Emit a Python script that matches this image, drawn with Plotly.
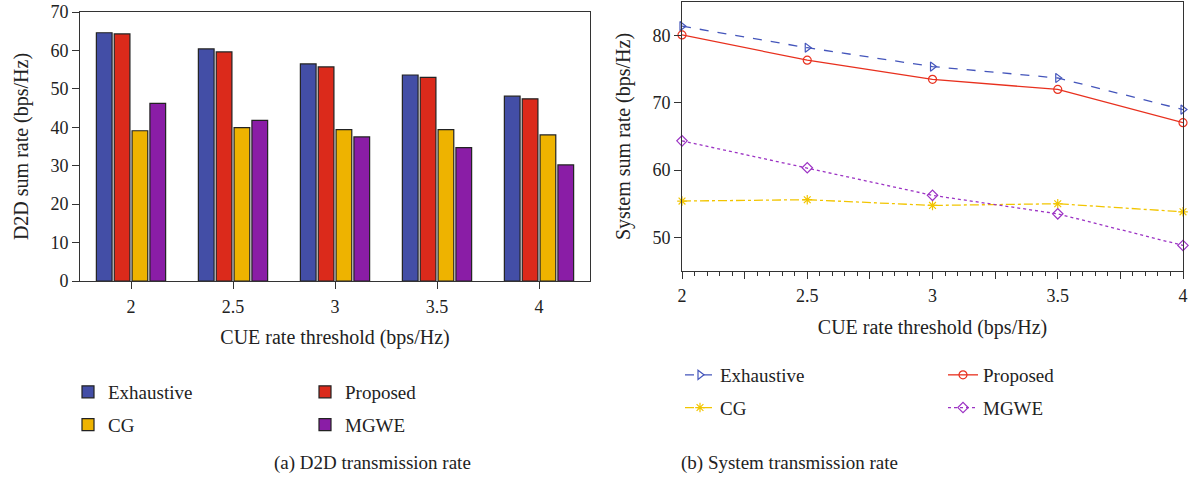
import plotly.graph_objects as go

W, H = 1196, 477

thresholds = ["2", "2.5", "3", "3.5", "4"]
thr_num = [2, 2.5, 3, 3.5, 4]

# (a) D2D sum rate (bps/Hz)
d2d_exhaustive = [64.6, 60.4, 56.5, 53.6, 48.1]
d2d_proposed = [64.3, 59.6, 55.7, 53.0, 47.4]
d2d_cg = [39.1, 39.9, 39.4, 39.4, 38.0]
d2d_mgwe = [46.2, 41.8, 37.5, 34.7, 30.2]

# (b) System sum rate (bps/Hz)
sys_exhaustive = [81.4, 78.2, 75.4, 73.7, 69.0]
sys_proposed = [80.1, 76.35, 73.5, 72.0, 67.05]
sys_cg = [55.4, 55.6, 54.75, 55.0, 53.8]
sys_mgwe = [64.35, 60.35, 56.25, 53.5, 48.8]

series_names = ["Exhaustive", "Proposed", "CG", "MGWE"]
bar_colors = ["#434EA6", "#DB2A1B", "#EEB300", "#8A1DA6"]
line_colors = ["#4455BB", "#E8301E", "#F2C500", "#9C33C4"]
line_dash = ["dash", "solid", "dashdot", "dot"]
markers = ["triangle-right-open", "circle-open", "asterisk-open", "diamond-open"]

FONT = "Liberation Serif, DejaVu Serif, serif"
AX = "#333333"

def px_x(p):
    return p / W

def px_y(p):
    return 1 - p / H

fig = go.Figure()

bar_vals = [d2d_exhaustive, d2d_proposed, d2d_cg, d2d_mgwe]
bar_legends = ["legend", "legend2", "legend", "legend2"]
for i, name in enumerate(series_names):
    fig.add_trace(go.Bar(
        x=thresholds, y=bar_vals[i], name=name,
        marker=dict(color=bar_colors[i], line=dict(color="#222222", width=1.2)),
        xaxis="x", yaxis="y", legend=bar_legends[i], legendgroup="a" + name,
    ))

line_vals = [sys_exhaustive, sys_proposed, sys_cg, sys_mgwe]
line_legends = ["legend3", "legend4", "legend3", "legend4"]
for i, name in enumerate(series_names):
    fig.add_trace(go.Scatter(
        x=thr_num, y=line_vals[i], name=name, mode="lines+markers",
        line=dict(color=line_colors[i], dash=line_dash[i], width=1.3),
        marker=dict(symbol=markers[i], size=8, color=line_colors[i],
                    line=dict(color=line_colors[i], width=1.2)),
        cliponaxis=False,
        xaxis="x2", yaxis="y2", legend=line_legends[i], legendgroup="b" + name,
    ))

tickfont = dict(family=FONT, size=18, color="#222222")
titlefont = dict(family=FONT, size=20, color="#222222")
legfont = dict(family=FONT, size=19, color="#222222")

common_axis = dict(showline=True, linecolor=AX, linewidth=1, mirror=True,
                   ticks="outside", ticklen=7, tickcolor=AX, tickwidth=1,
                   showgrid=False, zeroline=False, tickfont=tickfont,
                   automargin=False)

leg_common = dict(orientation="v", xanchor="left", yanchor="top",
                  bgcolor="rgba(0,0,0,0)", font=legfont, tracegroupgap=5,
                  itemclick=False, itemdoubleclick=False)

fig.update_layout(
    width=W, height=H, autosize=False,
    margin=dict(l=0, r=0, t=0, b=0, pad=0, autoexpand=False),
    paper_bgcolor="white", plot_bgcolor="white",
    barmode="group", bargap=0.3, bargroupgap=0.12,
    xaxis=dict(domain=[px_x(80), px_x(590)], anchor="y", type="category",
               range=[-0.5, 4.5], ticklabelstandoff=2,
               title=dict(text="CUE rate threshold (bps/Hz)", font=titlefont, standoff=14),
               **common_axis),
    yaxis=dict(domain=[px_y(281), px_y(12)], anchor="x", range=[0, 70], dtick=10,
               title=dict(text="D2D sum rate (bps/Hz)", font=titlefont, standoff=16),
               **common_axis),
    xaxis2=dict(domain=[px_x(682), px_x(1183)], anchor="y2", range=[2, 4],
                tickvals=[2, 2.25, 2.5, 2.75, 3, 3.25, 3.5, 3.75, 4],
                ticktext=["2", "", "2.5", "", "3", "", "3.5", "", "4"],
                minor=dict(dtick=0.05, ticklen=4, ticks="outside", tickcolor=AX),
                ticklabelstandoff=1,
                title=dict(text="CUE rate threshold (bps/Hz)", font=titlefont, standoff=15),
                **common_axis),
    yaxis2=dict(domain=[px_y(271), px_y(2)], anchor="x2", range=[45, 85],
                tickvals=[50, 60, 70, 80],
                title=dict(text="System sum rate (bps/Hz)", font=titlefont, standoff=16),
                **common_axis),
    legend=dict(x=px_x(68), y=px_y(373), **leg_common),
    legend2=dict(x=px_x(305), y=px_y(373), **leg_common),
    legend3=dict(x=px_x(680), y=px_y(356), **leg_common),
    legend4=dict(x=px_x(943), y=px_y(356), **leg_common),
    annotations=[
        dict(text="(a) D2D transmission rate", x=px_x(272), y=px_y(463),
             xref="paper", yref="paper", showarrow=False, yanchor="middle",
             font=dict(family=FONT, size=19, color="#222222")),
        dict(text="(b) System transmission rate", x=px_x(900), y=px_y(463),
             xref="paper", yref="paper", showarrow=False, yanchor="middle",
             font=dict(family=FONT, size=19, color="#222222")),
    ],
)

fig.write_html("out.html")
